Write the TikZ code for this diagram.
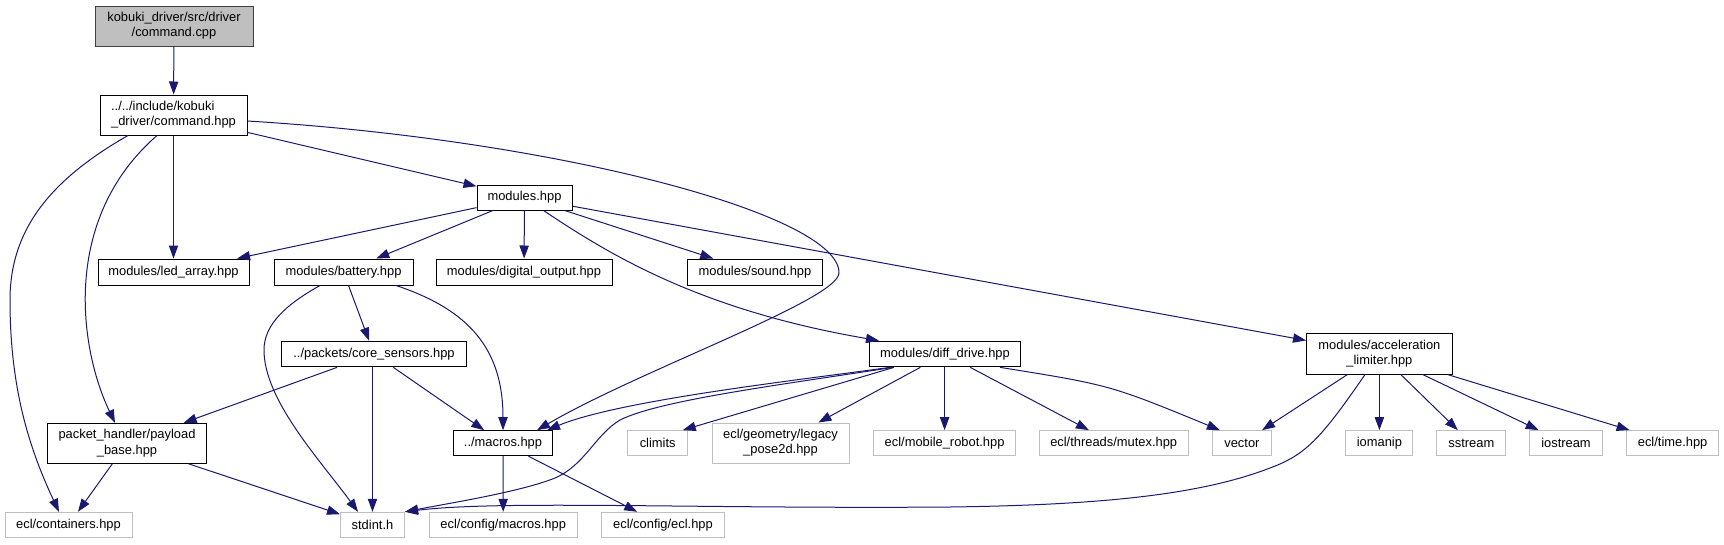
\documentclass[tikz,border=0pt]{standalone}
\usepackage{fontspec}
\setmainfont{Liberation Sans}
\usetikzlibrary{arrows.meta}
\definecolor{navyline}{HTML}{191970}
\definecolor{greyext}{HTML}{BFBFBF}
\definecolor{greyroot}{HTML}{BFBFBF}
\definecolor{rootborder}{HTML}{404040}
\newcommand\lab{\fontsize{12.9}{15.3}\selectfont}
\tikzset{
  box/.style={draw=black, line width=1pt, fill=white, inner sep=0pt, align=center, font=\lab, text=black},
  ext/.style={box, draw=greyext},
  rootbox/.style={box, fill=greyroot, draw=rootborder},
  wh/.style 2 args={minimum width=#1pt, minimum height=#2pt},
  dep/.style={draw=navyline, line width=1pt, -{Triangle[length=13pt,width=9.3pt]}},
}
\begin{document}
\begin{tikzpicture}[x=1pt,y=-1pt]
\useasboundingbox[fill=white] (0,0) rectangle (1724,544);
% nodes
\node[rootbox, wh={158}{40}] (cpp) at (174,26) {kobuki\_driver/src/driver\\/command.cpp};
\node[box, wh={147}{40}, align=left] (cmd) at (173.5,115) {../../include/kobuki\\\_driver/command.hpp};
\node[box, wh={95}{25}] (modules) at (524.5,197.5) {modules.hpp};
\node[box, wh={151}{26}] (led) at (173.5,272) {modules/led\_array.hpp};
\node[box, wh={139}{26}] (battery) at (343.5,272) {modules/battery.hpp};
\node[box, wh={176}{26}] (digital) at (524,272) {modules/digital\_output.hpp};
\node[box, wh={135}{26}] (sound) at (755,272) {modules/sound.hpp};
\node[box, wh={184.4}{25.7}] (core) at (374,354) {../packets/core\_sensors.hpp};
\node[box, wh={150.4}{25.7}] (diff) at (945,354) {modules/diff\_drive.hpp};
\node[box, wh={145.7}{40.7}] (accel) at (1379.4,353.7) {modules/acceleration\\\_limiter.hpp};
\node[box, wh={159}{40}] (payload) at (127,443.3) {packet\_handler/payload\\\_base.hpp};
\node[box, wh={99}{25}] (macros) at (503,443.2) {../macros.hpp};
\node[ext, wh={60}{25.3}] (climits) at (657.7,443.3) {climits};
\node[ext, wh={137}{40}] (legacy) at (780.5,443) {ecl/geometry/legacy\\\_pose2d.hpp};
\node[ext, wh={141.6}{25.3}] (mobile) at (944.6,443.3) {ecl/mobile\_robot.hpp};
\node[ext, wh={149.3}{25.3}] (mutex) at (1113.7,443.3) {ecl/threads/mutex.hpp};
\node[ext, wh={58.5}{25.3}] (vector) at (1241.9,443.3) {vector};
\node[ext, wh={67}{25.3}] (iomanip) at (1379.4,443.3) {iomanip};
\node[ext, wh={69.3}{25.3}] (sstream) at (1471.3,443.3) {sstream};
\node[ext, wh={72.4}{25.3}] (iostream) at (1566,443.3) {iostream};
\node[ext, wh={92.3}{25.3}] (time) at (1672.6,443.3) {ecl/time.hpp};
\node[ext, wh={127}{25.4}] (containers) at (68.5,525) {ecl/containers.hpp};
\node[ext, wh={64}{25.4}] (stdint) at (372.5,525) {stdint.h};
\node[ext, wh={147.6}{25.4}] (cfgmacros) at (503.2,525) {ecl/config/macros.hpp};
\node[ext, wh={122.8}{25.4}] (cfgecl) at (663,525) {ecl/config/ecl.hpp};
% edges
\draw[dep] (cpp) -- (cmd);
\draw[dep] (cmd) -- (modules);
\draw[dep] (cmd) -- (led);
\draw[dep] ([xshift=-16.5pt]cmd.south) .. controls (60,220) and (80,350) .. ([xshift=-12pt]payload.north);
\draw[dep] ([xshift=-45.5pt]cmd.south) .. controls (50,180) and (10,230) .. (10,300) .. controls (10,390) and (30,450) .. ([xshift=-9.5pt]containers.north);
\draw[dep] ([yshift=-6pt]cmd.east) .. controls (560,140) and (840,215) .. (839,273) .. controls (838,300) and (640,370) .. ([xshift=34pt]macros.north);
\draw[dep] (modules) -- (led);
\draw[dep] (modules) -- (battery);
\draw[dep] (modules) -- (digital);
\draw[dep] (modules) -- (sound);
\draw[dep] ([xshift=19pt]modules.south) .. controls (610,255) and (700,310) .. ([xshift=-66pt]diff.north);
\draw[dep] (modules) -- (accel);
\draw[dep] (battery) -- (core);
\draw[dep] ([xshift=-23.5pt]battery.south) .. controls (285,305) and (264,325) .. (264,350) .. controls (264,400) and (320,460) .. ([xshift=-14.5pt]stdint.north);
\draw[dep] ([xshift=52.5pt]battery.south) .. controls (470,310) and (503,350) .. (macros.north);
\draw[dep] (core) -- (payload);
\draw[dep] (core.south -| stdint.north) -- (stdint.north);
\draw[dep] (core) -- (macros);
\draw[dep] (payload) -- (containers);
\draw[dep] (payload) -- (stdint);
\draw[dep] (macros) -- (cfgmacros);
\draw[dep] (macros) -- (cfgecl);
\draw[dep] ([xshift=-55pt]diff.south) .. controls (800,380) and (620,400) .. ([xshift=44pt]macros.north);
\draw[dep] ([xshift=-52pt]diff.south) .. controls (780,385) and (660,400) .. (620,420) .. controls (595,435) and (585,465) .. (555,478) .. controls (520,492) and (450,503) .. (stdint.north east);
\draw[dep] ([xshift=-51pt]diff.south) -- ([xshift=25pt]climits.north);
\draw[dep] (diff) -- (legacy);
\draw[dep] (diff.south -| mobile.north) -- (mobile.north);
\draw[dep] (diff) -- (mutex);
\draw[dep] ([xshift=55pt]diff.south) .. controls (1110,385) .. ([xshift=-22pt]vector.north);
\draw[dep] (accel) -- (vector);
\draw[dep] (accel) -- (iomanip);
\draw[dep] (accel) -- (sstream);
\draw[dep] (accel) -- (iostream);
\draw[dep] (accel) -- (time);
\draw[dep] ([xshift=-14.4pt]accel.south) .. controls (1320,440) and (1305,455) .. (1270,468) .. controls (1200,495) and (1100,505) .. (950,507) .. controls (700,509) and (500,500) .. (stdint.north east);
\end{tikzpicture}
\end{document}
